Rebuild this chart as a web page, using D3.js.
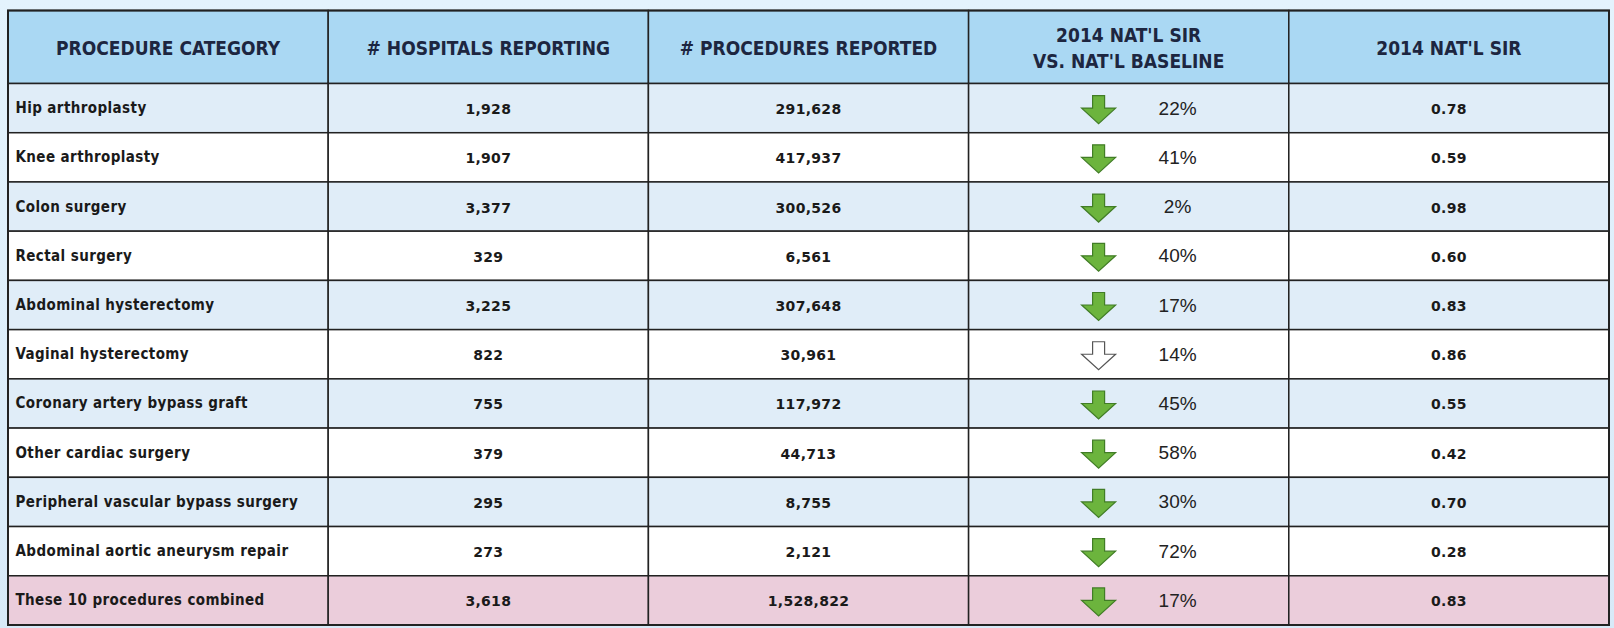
<!DOCTYPE html>
<html>
<head>
<meta charset="utf-8">
<script src="https://cdn.jsdelivr.net/npm/d3@7"></script>
<style>
  html, body { margin: 0; padding: 0; background: #dcedf9; }
  svg { display: block; }
</style>
</head>
<body>
<script>
var categories = ["Hip arthroplasty", "Knee arthroplasty", "Colon surgery", "Rectal surgery",
  "Abdominal hysterectomy", "Vaginal hysterectomy", "Coronary artery bypass graft",
  "Other cardiac surgery", "Peripheral vascular bypass surgery",
  "Abdominal aortic aneurysm repair", "These 10 procedures combined"];
var hospitals = [1928, 1907, 3377, 329, 3225, 822, 755, 379, 295, 273, 3618];
var procedures = [291628, 417937, 300526, 6561, 307648, 30961, 117972, 44713, 8755, 2121, 1528822];
var sirChange = [22, 41, 2, 40, 17, 14, 45, 58, 30, 72, 17];
var significant = [true, true, true, true, true, false, true, true, true, true, true];
var sir = [0.78, 0.59, 0.98, 0.60, 0.83, 0.86, 0.55, 0.42, 0.70, 0.28, 0.83];
var headers = [["PROCEDURE CATEGORY"], ["# HOSPITALS REPORTING"], ["# PROCEDURES REPORTED"],
  ["2014 NAT'L SIR", "VS. NAT'L BASELINE"], ["2014 NAT'L SIR"]];

var width = 1614, height = 628;
var tableTop = 10.5, headBottom = 83.5, tableBottom = 625;

var svg = d3.select("body").append("svg")
  .attr("width", width).attr("height", height);

// light gradient behind the table
var grad = svg.append("defs").append("linearGradient")
  .attr("id", "bg").attr("x1", 0).attr("y1", 0).attr("x2", 0).attr("y2", 1);
grad.append("stop").attr("offset", 0).attr("stop-color", "#e4f3fd");
grad.append("stop").attr("offset", 1).attr("stop-color", "#d8eaf8");
svg.append("rect").attr("width", width).attr("height", height).attr("fill", "url(#bg)");

var x = d3.scaleBand().domain(d3.range(headers.length)).range([8, 1609]);
var y = d3.scaleBand().domain(categories).range([headBottom, tableBottom]);

var fmt = d3.format(",");

// header cells
var head = svg.append("g").attr("class", "header");
head.selectAll("rect").data(headers).enter().append("rect")
  .attr("x", function(d, i){ return x(i); })
  .attr("y", tableTop)
  .attr("width", x.bandwidth())
  .attr("height", headBottom - tableTop)
  .attr("fill", "#aad8f3")
  .attr("stroke", "#222").attr("stroke-width", 1.5);

head.selectAll("text").data(headers).enter().append("text")
  .attr("x", function(d, i){ return x(i) + x.bandwidth() / 2; })
  .attr("y", function(d){ return (tableTop + headBottom) / 2 + 0.5 - (d.length - 1) * 13; })
  .attr("text-anchor", "middle")
  .attr("dominant-baseline", "central")
  .style("font-family", "'Liberation Sans Narrow', 'DejaVu Sans Condensed', sans-serif")
  .style("font-weight", "bold")
  .style("font-size", "19px")
  .attr("fill", "#1d2640")
  .selectAll("tspan").data(function(d){ return d; }).enter().append("tspan")
    .attr("x", function(){ return d3.select(this.parentNode).attr("x"); })
    .attr("dy", function(d, i){ return i ? 26 : 0; })
    .text(function(d){ return d; });

// body rows
var rows = svg.append("g").attr("class", "rows").selectAll("g")
  .data(categories).enter().append("g")
  .attr("transform", function(d){ return "translate(0," + y(d) + ")"; });

rows.selectAll("rect").data(function(d, r){ return d3.range(headers.length).map(function(c){ return {r: r, c: c}; }); })
  .enter().append("rect")
  .attr("x", function(d){ return x(d.c); })
  .attr("width", x.bandwidth())
  .attr("height", y.bandwidth())
  .attr("fill", function(d){
    if (d.r === categories.length - 1) return "#ebcddb";
    return d.r % 2 === 0 ? "#e0edf8" : "#ffffff";
  })
  .attr("stroke", "#222").attr("stroke-width", 1.5);

var mid = y.bandwidth() / 2;

// label column
rows.append("text")
  .attr("x", x(0) + 7.5)
  .attr("y", mid)
  .attr("dominant-baseline", "central")
  .style("font-family", "'DejaVu Sans Condensed', 'DejaVu Sans', sans-serif")
  .style("font-weight", "bold")
  .style("font-size", "15px")
  .style("letter-spacing", "0.4px")
  .attr("fill", "#1a1a1a")
  .text(function(d){ return d; });

function numCol(col, values, f) {
  rows.append("text")
    .attr("x", x(col) + x.bandwidth() / 2)
    .attr("y", mid + 1)
    .attr("text-anchor", "middle")
    .attr("dominant-baseline", "central")
    .style("font-family", "'DejaVu Sans', sans-serif")
    .style("font-weight", "bold")
    .style("font-size", "14px")
    .style("letter-spacing", "0.3px")
    .attr("fill", "#1a1a1a")
    .text(function(d, i){ return f(values[i]); });
}
numCol(1, hospitals, fmt);
numCol(2, procedures, fmt);
numCol(4, sir, d3.format(".2f"));

// arrows + percent change
var arrowX = x(3) + 130;
var arrow = "M-6,-12.5 L6,-12.5 L6,0 L17,0 L0,15.5 L-17,0 L-6,0 Z";
rows.append("path")
  .attr("d", arrow)
  .attr("transform", "translate(" + arrowX + "," + mid + ")")
  .attr("fill", function(d, i){ return significant[i] ? "#6cb43d" : "#ffffff"; })
  .attr("stroke", function(d, i){ return significant[i] ? "#417d26" : "#555"; })
  .attr("stroke-width", 1.2)
  .attr("stroke-linejoin", "miter");

rows.append("text")
  .attr("x", x(3) + 209)
  .attr("y", mid)
  .attr("text-anchor", "middle")
  .attr("dominant-baseline", "central")
  .style("font-family", "'Liberation Sans', Arial, sans-serif")
  .style("font-size", "19px")
  .attr("fill", "#222")
  .text(function(d, i){ return sirChange[i] + "%"; });

// outer frame
svg.append("rect")
  .attr("x", x(0)).attr("y", tableTop)
  .attr("width", x.range()[1] - x.range()[0])
  .attr("height", tableBottom - tableTop)
  .attr("fill", "none").attr("stroke", "#222").attr("stroke-width", 2);
</script>
</body>
</html>
